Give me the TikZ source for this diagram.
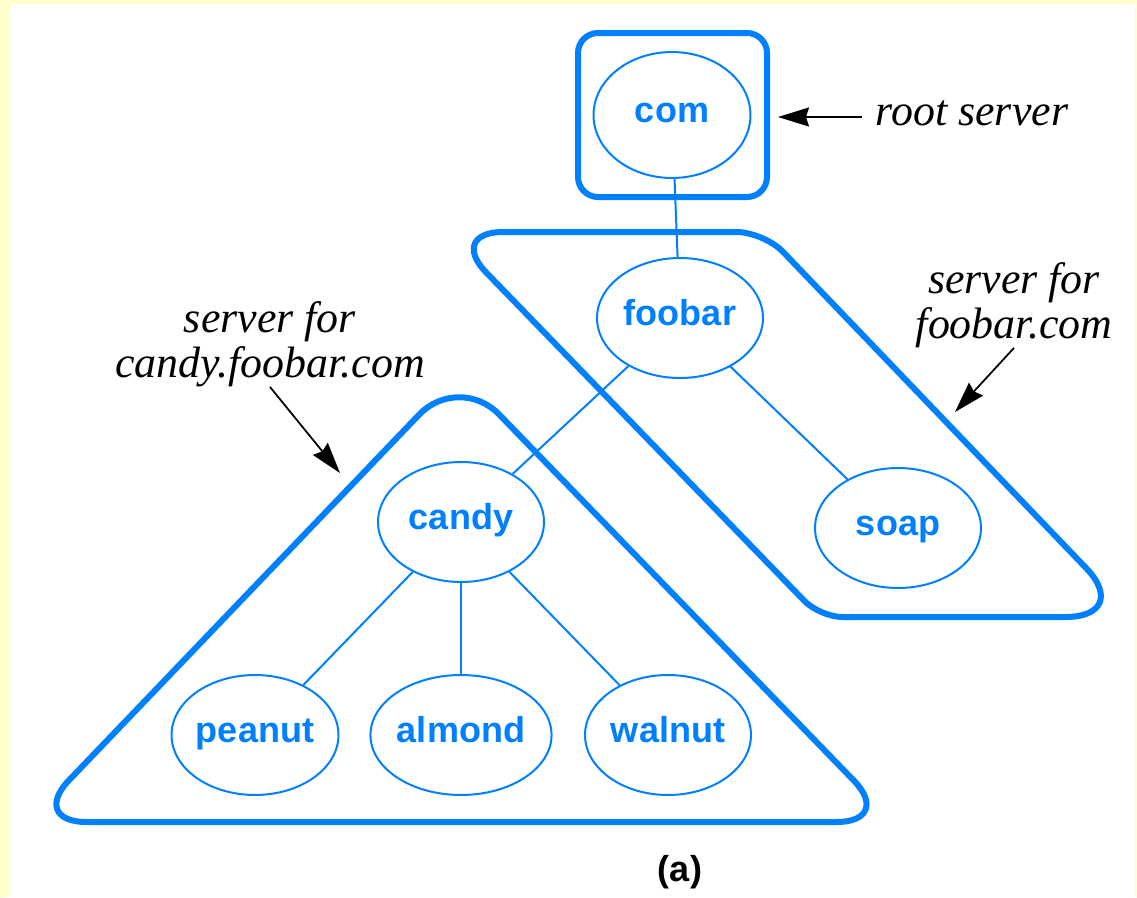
\documentclass[tikz,border=0pt]{standalone}
\usepackage{fontspec}
\setmainfont{Liberation Serif}
\setsansfont{Liberation Sans}
\usepackage{tikz}
\usetikzlibrary{shapes.geometric}
\usetikzlibrary{arrows.meta}
\definecolor{dnsblue}{RGB}{0,128,255}
\definecolor{pagebg}{RGB}{255,255,204}
\tikzstyle{dom}=[ellipse, draw=dnsblue, line width=.04cm, inner sep=0pt,
                    minimum width=3.32cm, minimum height=2.4cm, text=dnsblue,
                    text height=.38cm, text depth=.1cm,
                    font=\sffamily\bfseries\fontsize{20.5}{24}\selectfont]
\tikzstyle{zone}=[draw=dnsblue, line width=.12cm]
\tikzstyle{note}=[align=center, inner sep=0pt, font=\itshape\fontsize{25}{25.5}\selectfont]
\tikzstyle{pointer}=[-{Stealth[length=.62cm, width=.38cm, inset=.06cm]}, line width=.035cm]

\begin{document}
\begin{tikzpicture}[x=.02cm, y=-.02cm]
    \fill[pagebg] (0,0) rectangle (1137,897);
    \fill[white] (10,4) rectangle (1135,897);
    \useasboundingbox (0,0) rectangle (1137,897);
    \node[dom, minimum width=3.14cm, minimum height=2.52cm] (com) at (672,115) {com};
    \node[dom] (foobar) at (680,318) {foobar};
    \node[dom] (soap) at (898,528) {soap};
    \node[dom] (candy) at (461,522) {candy};
    \node[dom] (peanut) at (255,735) {peanut};
    \node[dom] (almond) at (461,735) {almond};
    \node[dom] (walnut) at (668,735) {walnut};
    \foreach \to/\from in {com/foobar, foobar/candy, foobar/soap,
          candy/peanut, candy/almond, candy/walnut}
      \draw[dnsblue, line width=.04cm] (\to) -- (\from);
    \draw[zone, rounded corners=.4cm] (578,33) rectangle (767,197);
    \draw[zone] (600,232) [rounded corners=.55cm] -- (764,232)
    [rounded corners=1.35cm] -- (1133,617) [rounded corners=.45cm] -- (820,617)
    [rounded corners=1.12cm] -- (447,232) -- cycle;
    \draw[zone, rounded corners=1.15cm] (465,822) -- (894,822) -- (459,373) --
    (29,822) -- cycle;
    \node[note, inner xsep=.26cm] (lroot) at (972,113) {root server};
    \node[note] (lfoobar) at (1014,305) {server for\\foobar.com};
    \node[note] (lcandy) at (270,344) {server for\\candy.foobar.com};
    \coordinate (rtip) at (778,117);
    \coordinate (ftip) at (955,412);
    \coordinate (ctip) at (340,473);
    \draw[pointer] (lroot.west |- rtip) -- (rtip);
    \draw[pointer] (lfoobar.south) -- (ftip);
    \draw[pointer] (lcandy.south) -- (ctip);
    \node[font=\sffamily\bfseries\fontsize{20.5}{24}\selectfont] (cap) at (680,872) {(a)};
\end{tikzpicture}
\end{document}
